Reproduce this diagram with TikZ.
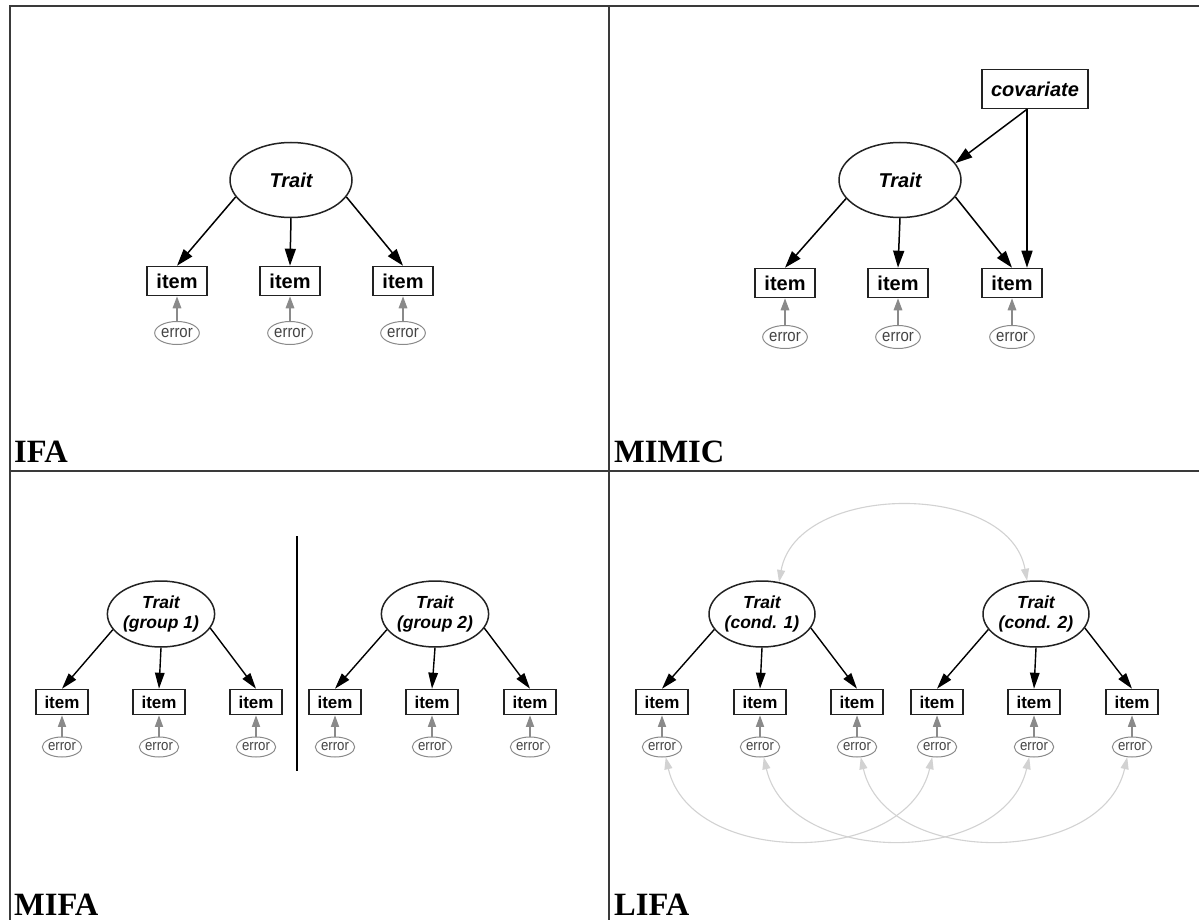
\documentclass[tikz,border=0pt]{standalone}
\usepackage{fontspec}
\setmainfont{Liberation Serif}
\setsansfont{Liberation Sans}
\newfontfamily\errfont[FakeStretch=0.88]{Liberation Sans}
\usetikzlibrary{arrows.meta,shapes.geometric}
\definecolor{framec}{HTML}{3A3A3A}
\definecolor{errc}{HTML}{8A8A8A}
\definecolor{errtxt}{HTML}{444444}
\definecolor{corrc}{HTML}{D2D2D2}
\definecolor{nodec}{HTML}{222222}
\begin{document}
\begin{tikzpicture}[x=1pt,y=-1pt,
  lat/.style={ellipse, draw=nodec, line width=1.5pt, inner sep=0pt, align=center},
  latL/.style={lat, minimum width=122pt, minimum height=75pt, font=\sffamily\bfseries\itshape\fontsize{20}{22}\selectfont},
  latS/.style={lat, minimum width=106pt, minimum height=66pt, font=\sffamily\bfseries\itshape\fontsize{17.5}{20}\selectfont},
  obs/.style={rectangle, draw=nodec, line width=1.6pt, inner sep=0pt},
  obsL/.style={obs, minimum width=60pt, minimum height=29pt, font=\sffamily\bfseries\fontsize{20}{22}\selectfont},
  obsS/.style={obs, minimum width=52pt, minimum height=25pt, font=\sffamily\bfseries\fontsize{17}{19}\selectfont},
  covbox/.style={obs, minimum width=106pt, minimum height=39pt, font=\sffamily\bfseries\itshape\fontsize{20}{22}\selectfont},
  err/.style={ellipse, draw=errc, line width=1pt, inner sep=0pt, text=errtxt},
  errL/.style={err, minimum width=42pt, minimum height=23pt, font=\errfont\fontsize{17}{19}\selectfont},
  errS/.style={err, minimum width=37pt, minimum height=20pt, font=\errfont\fontsize{15}{17}\selectfont},
  load/.style={-{Triangle[length=17pt,width=11pt]}, line width=1.5pt},
  loadS/.style={-{Triangle[length=16pt,width=9.5pt]}, line width=1.4pt},
  erra/.style={errc, -{Triangle[length=12pt,width=8.5pt]}, line width=1.6pt},
  erraS/.style={errc, -{Triangle[length=11.5pt,width=8pt]}, line width=1.5pt},
  corr/.style={corrc, {Triangle[length=12pt,width=8pt]}-{Triangle[length=12pt,width=8pt]}, line width=1.1pt},
  plabel/.style={anchor=base west, inner sep=0pt, font=\rmfamily\bfseries\fontsize{32.5}{34}\selectfont}
]
\useasboundingbox (0,0) rectangle (1199,920);
\fill[white] (0,0) rectangle (1199,920);

% frame
\draw[framec, line width=1.5pt] (10,920) -- (10,6) -- (1199,6);
\draw[framec, line width=1.5pt] (10,471) -- (1199,471);
\draw[framec, line width=1.5pt] (609,6) -- (609,920);

% panel labels
\node[plabel] (lifa) at (14,462) {IFA};
\node[plabel] (lmimic) at (614,462) {MIMIC};
\node[plabel] (lmifa) at (14,915) {MIFA};
\node[plabel] (llifa) at (614,915) {LIFA};

% ---------------- IFA ----------------
\node[latL] (aT) at (291,180) {Trait};
\node[obsL] (ai1) at (177,281) {item};
\node[obsL] (ai2) at (290,281) {item};
\node[obsL] (ai3) at (403,281) {item};
\node[errL] (ae1) at (177,333) {error};
\node[errL] (ae2) at (290,333) {error};
\node[errL] (ae3) at (403,333) {error};
\draw[load] (aT.197) -- (ai1.north);
\draw[load] (aT.south) -- (ai2.north);
\draw[load] (aT.343) -- (ai3.north);
\foreach \i in {1,2,3} \draw[erra] (ae\i) -- (ai\i);

% ---------------- MIMIC ----------------
\node[covbox] (bC) at (1035,89) {covariate};
\node[latL] (bT) at (900,180) {Trait};
\node[obsL] (bi1) at (785,283) {item};
\node[obsL] (bi2) at (898,283) {item};
\node[obsL] (bi3) at (1012,283) {item};
\node[errL] (be1) at (785,337) {error};
\node[errL] (be2) at (898,337) {error};
\node[errL] (be3) at (1012,337) {error};
\draw[load] (bT.199) -- (bi1.north);
\draw[load] (bT.south) -- (bi2.north);
\draw[load] (bT.343) -- (bi3.north);
\draw[load] ([xshift=-8pt]bC.south) -- (bT.17);
\draw[load] ([xshift=-8pt]bC.south) -- ([xshift=-8pt]bC.south |- bi3.north);
\foreach \i in {1,2,3} \draw[erra] (be\i) -- (bi\i);

% ---------------- MIFA ----------------
\node[latS] (cT1) at (161,614) {Trait\\(group 1)};
\node[latS] (cT2) at (435,614) {Trait\\(group 2)};
\node[obsS] (ci1) at (62,702) {item};
\node[obsS] (ci2) at (159,702) {item};
\node[obsS] (ci3) at (256,702) {item};
\node[obsS] (ci4) at (335,702) {item};
\node[obsS] (ci5) at (432,702) {item};
\node[obsS] (ci6) at (530,702) {item};
\foreach \i/\x in {1/62,2/159,3/256,4/335,5/432,6/530}
  \node[errS] (ce\i) at (\x,747) {error};
\draw[loadS] (cT1.198) -- (ci1.north);
\draw[loadS] (cT1.south) -- (ci2.north);
\draw[loadS] (cT1.344) -- (ci3.north);
\draw[loadS] (cT2.198) -- (ci4.north);
\draw[loadS] (cT2.south) -- (ci5.north);
\draw[loadS] (cT2.344) -- (ci6.north);
\foreach \i in {1,...,6} \draw[erraS] (ce\i) -- (ci\i);
\draw[line width=1.2pt] (297,536) -- (297,771);

% ---------------- LIFA ----------------
\node[latS] (dT1) at (762,614) {Trait\\(cond. 1)};
\node[latS] (dT2) at (1036,614) {Trait\\(cond. 2)};
\node[obsS] (di1) at (662,702) {item};
\node[obsS] (di2) at (760,702) {item};
\node[obsS] (di3) at (857,702) {item};
\node[obsS] (di4) at (937,702) {item};
\node[obsS] (di5) at (1034,702) {item};
\node[obsS] (di6) at (1132,702) {item};
\foreach \i/\x in {1/662,2/760,3/857,4/937,5/1034,6/1132}
  \node[errS] (de\i) at (\x,747) {error};
\draw[loadS] (dT1.198) -- (di1.north);
\draw[loadS] (dT1.south) -- (di2.north);
\draw[loadS] (dT1.344) -- (di3.north);
\draw[loadS] (dT2.198) -- (di4.north);
\draw[loadS] (dT2.south) -- (di5.north);
\draw[loadS] (dT2.344) -- (di6.north);
\foreach \i in {1,...,6} \draw[erraS] (de\i) -- (di\i);
% correlations
\draw[corr] (dT1.62) .. controls +(18,-100) and +(-18,-100) .. (dT2.105);
\draw[corr] (de1.-70) .. controls +(25,110) and +(-25,110) .. (de4.-115);
\draw[corr] (de2.-70) .. controls +(25,110) and +(-25,110) .. (de5.-115);
\draw[corr] (de3.-70) .. controls +(25,110) and +(-25,110) .. (de6.-115);
\end{tikzpicture}
\end{document}
